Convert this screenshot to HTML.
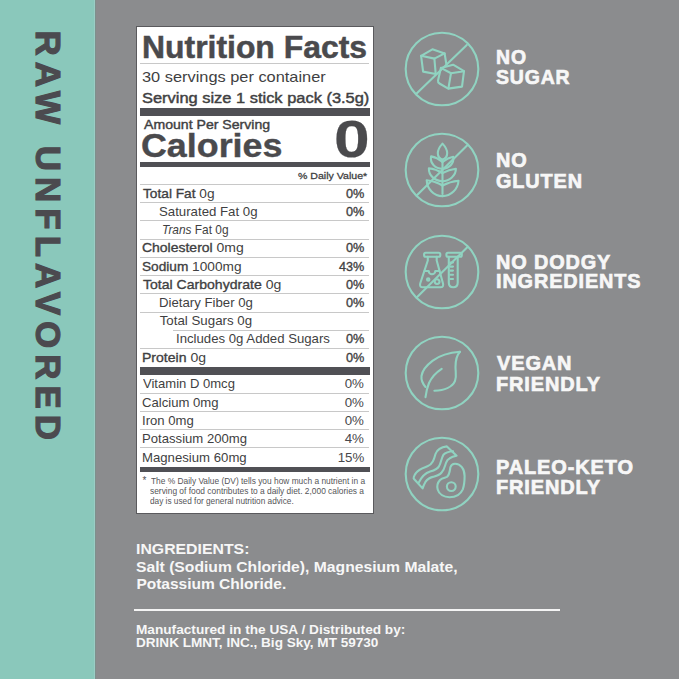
<!DOCTYPE html>
<html><head><meta charset="utf-8"><style>
html,body{margin:0;padding:0}
body{width:679px;height:679px;position:relative;overflow:hidden;background:#8b8c8e;font-family:"Liberation Sans",sans-serif}
.t{position:absolute;line-height:1;white-space:nowrap;transform-origin:0 0}
.r{position:absolute}
b{font-weight:400;-webkit-text-stroke:0.35px currentColor}
.ic{position:absolute}
</style></head><body>
<div style="position:absolute;left:0;top:0;width:94px;height:679px;background:#8ac8bb"></div><div style="position:absolute;left:94px;top:0;width:1px;height:679px;background:#9bcdc5"></div><div style="position:absolute;left:95px;top:0;width:1px;height:679px;background:#7d908c"></div>
<div style="position:absolute;left:0;top:0;width:400px;height:40px;transform-origin:0 0;transform:translate(59.6px,30.5px) rotate(90deg);font-weight:700;font-size:35px;letter-spacing:5.98px;color:#4b4a4f;-webkit-text-stroke:1.1px #4b4a4f;line-height:1;white-space:nowrap"><span style="position:absolute;left:0;top:-5.55px">RAW UNFLAVORED</span></div>
<div style="position:absolute;left:136px;top:26px;width:235.5px;height:486px;background:#ffffff;border:1.5px solid #5a5a5d"></div>
<div class=r style="left:140px;top:63px;width:229px;height:1px;background:#c8c8c8"></div><div class=r style="left:140px;top:108px;width:229.5px;height:8px;background:#505055"></div><div class=r style="left:140px;top:162px;width:229.5px;height:5px;background:#505055"></div><div class=r style="left:140px;top:184px;width:229px;height:1px;background:#c8c8c8"></div><div class=r style="left:140px;top:202px;width:229px;height:1px;background:#c8c8c8"></div><div class=r style="left:140px;top:220px;width:229px;height:1px;background:#c8c8c8"></div><div class=r style="left:140px;top:238.6px;width:229px;height:1.0px;background:#c8c8c8"></div><div class=r style="left:140px;top:257px;width:229px;height:1px;background:#c8c8c8"></div><div class=r style="left:140px;top:275px;width:229px;height:1px;background:#c8c8c8"></div><div class=r style="left:140px;top:293px;width:229px;height:1px;background:#c8c8c8"></div><div class=r style="left:140px;top:312px;width:229px;height:1px;background:#c8c8c8"></div><div class=r style="left:140px;top:348px;width:229px;height:1px;background:#c8c8c8"></div><div class=r style="left:173px;top:330px;width:196px;height:1px;background:#c8c8c8"></div><div class=r style="left:140px;top:367px;width:229.5px;height:8px;background:#505055"></div><div class=r style="left:140px;top:392.6px;width:229px;height:1.0px;background:#c8c8c8"></div><div class=r style="left:140px;top:411px;width:229px;height:1px;background:#c8c8c8"></div><div class=r style="left:140px;top:429.4px;width:229px;height:1.0px;background:#c8c8c8"></div><div class=r style="left:140px;top:447.4px;width:229px;height:1.0px;background:#c8c8c8"></div><div class=r style="left:140px;top:466.5px;width:229.5px;height:5.0px;background:#505055"></div>
<div class=t style="left:142.04px;top:31.65px;font-size:31px;font-weight:700;font-style:normal;color:#4a4a4d;transform:scaleX(1.0287);-webkit-text-stroke:0.5px #4a4a4d;">Nutrition Facts</div><div class=t style="left:142.11px;top:68.60px;font-size:15px;font-weight:400;font-style:normal;color:#3f3f42;transform:scaleX(1.0910);">30 servings per container</div><div class=t style="left:142.13px;top:89.55px;font-size:15.3px;font-weight:400;font-style:normal;color:#3f3f42;transform:scaleX(1.0738);-webkit-text-stroke:0.45px #3f3f42;">Serving size 1 stick pack (3.5g)</div><div class=t style="left:144.10px;top:118.39px;font-size:13px;font-weight:400;font-style:normal;color:#3f3f42;transform:scaleX(1.0843);-webkit-text-stroke:0.4px #3f3f42;">Amount Per Serving</div><div class=t style="left:141.05px;top:128.01px;font-size:34px;font-weight:700;font-style:normal;color:#4a4a4d;transform:scaleX(1.0538);-webkit-text-stroke:0.4px #4a4a4d;">Calories</div><div class=t style="left:334.28px;top:113.72px;font-size:51px;font-weight:700;font-style:normal;color:#4a4a4d;transform:scaleX(1.2583);-webkit-text-stroke:0.2px #4a4a4d;">0</div><div class=t style="left:297.71px;top:170.79px;font-size:9.7px;font-weight:400;font-style:normal;color:#3f3f42;transform:scaleX(1.0919);-webkit-text-stroke:0.3px #3f3f42;">% Daily Value*</div><div class=t style="left:143.00px;top:187.04px;font-size:13.3px;font-weight:400;font-style:normal;color:#3f3f42;transform:scaleX(1.0304);"><b>Total Fat</b> 0g</div><div class=t style="left:345.54px;top:187.04px;font-size:13.3px;font-weight:400;font-style:normal;color:#3f3f42;transform:scaleX(0.9556);-webkit-text-stroke:0.35px #3f3f42;">0%</div><div class=t style="left:158.71px;top:205.24px;font-size:13.3px;font-weight:400;font-style:normal;color:#3f3f42;transform:scaleX(0.9948);">Saturated Fat 0g</div><div class=t style="left:345.54px;top:205.24px;font-size:13.3px;font-weight:400;font-style:normal;color:#3f3f42;transform:scaleX(0.9556);-webkit-text-stroke:0.35px #3f3f42;">0%</div><div class=t style="left:162.41px;top:222.84px;font-size:13.3px;font-weight:400;font-style:normal;color:#3f3f42;transform:scaleX(0.8945);"><i>Trans</i> Fat 0g</div><div class=t style="left:141.95px;top:241.44px;font-size:13.3px;font-weight:400;font-style:normal;color:#3f3f42;transform:scaleX(1.0505);"><b>Cholesterol</b> 0mg</div><div class=t style="left:345.54px;top:241.44px;font-size:13.3px;font-weight:400;font-style:normal;color:#3f3f42;transform:scaleX(0.9556);-webkit-text-stroke:0.35px #3f3f42;">0%</div><div class=t style="left:141.97px;top:259.54px;font-size:13.3px;font-weight:400;font-style:normal;color:#3f3f42;transform:scaleX(1.0274);"><b>Sodium</b> 1000mg</div><div class=t style="left:339.00px;top:259.54px;font-size:13.3px;font-weight:400;font-style:normal;color:#3f3f42;transform:scaleX(0.9500);-webkit-text-stroke:0.35px #3f3f42;">43%</div><div class=t style="left:143.00px;top:278.14px;font-size:13.3px;font-weight:400;font-style:normal;color:#3f3f42;transform:scaleX(1.0569);"><b>Total Carbohydrate</b> 0g</div><div class=t style="left:345.54px;top:278.14px;font-size:13.3px;font-weight:400;font-style:normal;color:#3f3f42;transform:scaleX(0.9556);-webkit-text-stroke:0.35px #3f3f42;">0%</div><div class=t style="left:158.71px;top:296.34px;font-size:13.3px;font-weight:400;font-style:normal;color:#3f3f42;transform:scaleX(0.9925);">Dietary Fiber 0g</div><div class=t style="left:345.54px;top:296.34px;font-size:13.3px;font-weight:400;font-style:normal;color:#3f3f42;transform:scaleX(0.9556);-webkit-text-stroke:0.35px #3f3f42;">0%</div><div class=t style="left:159.70px;top:313.94px;font-size:13.3px;font-weight:400;font-style:normal;color:#3f3f42;">Total Sugars 0g</div><div class=t style="left:175.51px;top:332.34px;font-size:13.3px;font-weight:400;font-style:normal;color:#3f3f42;transform:scaleX(0.9916);">Includes 0g Added Sugars</div><div class=t style="left:345.54px;top:332.34px;font-size:13.3px;font-weight:400;font-style:normal;color:#3f3f42;transform:scaleX(0.9556);-webkit-text-stroke:0.35px #3f3f42;">0%</div><div class=t style="left:141.94px;top:351.04px;font-size:13.3px;font-weight:400;font-style:normal;color:#3f3f42;transform:scaleX(1.0559);"><b>Protein</b> 0g</div><div class=t style="left:345.54px;top:351.04px;font-size:13.3px;font-weight:400;font-style:normal;color:#3f3f42;transform:scaleX(0.9556);-webkit-text-stroke:0.35px #3f3f42;">0%</div><div class=t style="left:143.00px;top:377.24px;font-size:13.3px;font-weight:400;font-style:normal;color:#3f3f42;transform:scaleX(0.9817);">Vitamin D 0mcg</div><div class=t style="left:344.70px;top:377.24px;font-size:13.3px;font-weight:400;font-style:normal;color:#48484b;">0%</div><div class=t style="left:142.01px;top:395.74px;font-size:13.3px;font-weight:400;font-style:normal;color:#3f3f42;transform:scaleX(0.9868);">Calcium 0mg</div><div class=t style="left:344.70px;top:395.74px;font-size:13.3px;font-weight:400;font-style:normal;color:#48484b;">0%</div><div class=t style="left:142.01px;top:413.94px;font-size:13.3px;font-weight:400;font-style:normal;color:#3f3f42;transform:scaleX(0.9863);">Iron 0mg</div><div class=t style="left:344.70px;top:413.94px;font-size:13.3px;font-weight:400;font-style:normal;color:#48484b;">0%</div><div class=t style="left:142.01px;top:432.34px;font-size:13.3px;font-weight:400;font-style:normal;color:#3f3f42;transform:scaleX(0.9876);">Potassium 200mg</div><div class=t style="left:344.70px;top:432.34px;font-size:13.3px;font-weight:400;font-style:normal;color:#48484b;">4%</div><div class=t style="left:142.01px;top:450.54px;font-size:13.3px;font-weight:400;font-style:normal;color:#3f3f42;transform:scaleX(0.9904);">Magnesium 60mg</div><div class=t style="left:337.70px;top:450.54px;font-size:13.3px;font-weight:400;font-style:normal;color:#48484b;">15%</div><div class=t style="left:142.50px;top:476.03px;font-size:10px;font-weight:400;font-style:normal;color:#555558;">*</div><div class=t style="left:150.80px;top:475.70px;font-size:9.8px;font-weight:400;font-style:normal;color:#555558;transform:scaleX(0.8534);">The % Daily Value (DV) tells you how much a nutrient in a</div><div class=t style="left:149.94px;top:486.00px;font-size:9.8px;font-weight:400;font-style:normal;color:#555558;transform:scaleX(0.8562);">serving of food contributes to a daily diet. 2,000 calories a</div><div class=t style="left:149.96px;top:496.30px;font-size:9.8px;font-weight:400;font-style:normal;color:#555558;transform:scaleX(0.8432);">day is used for general nutrition advice.</div><div class=t style="left:495.56px;top:47.06px;font-size:20.6px;font-weight:700;font-style:normal;color:#f7f7f7;transform:scaleX(0.9434);-webkit-text-stroke:0.7px #f7f7f7;letter-spacing:0.9px;">NO</div><div class=t style="left:495.56px;top:67.36px;font-size:20.6px;font-weight:700;font-style:normal;color:#f7f7f7;transform:scaleX(0.9434);-webkit-text-stroke:0.7px #f7f7f7;letter-spacing:0.9px;">SUGAR</div><div class=t style="left:495.54px;top:150.26px;font-size:20.6px;font-weight:700;font-style:normal;color:#f7f7f7;transform:scaleX(0.9644);-webkit-text-stroke:0.7px #f7f7f7;letter-spacing:0.9px;">NO</div><div class=t style="left:495.54px;top:171.46px;font-size:20.6px;font-weight:700;font-style:normal;color:#f7f7f7;transform:scaleX(0.9644);-webkit-text-stroke:0.7px #f7f7f7;letter-spacing:0.9px;">GLUTEN</div><div class=t style="left:495.54px;top:251.86px;font-size:20.6px;font-weight:700;font-style:normal;color:#f7f7f7;transform:scaleX(0.9649);-webkit-text-stroke:0.7px #f7f7f7;letter-spacing:0.9px;">NO DODGY</div><div class=t style="left:495.54px;top:271.46px;font-size:20.6px;font-weight:700;font-style:normal;color:#f7f7f7;transform:scaleX(0.9649);-webkit-text-stroke:0.7px #f7f7f7;letter-spacing:0.9px;">INGREDIENTS</div><div class=t style="left:496.50px;top:353.06px;font-size:20.6px;font-weight:700;font-style:normal;color:#f7f7f7;transform:scaleX(0.9698);-webkit-text-stroke:0.7px #f7f7f7;letter-spacing:0.9px;">VEGAN</div><div class=t style="left:495.53px;top:373.86px;font-size:20.6px;font-weight:700;font-style:normal;color:#f7f7f7;transform:scaleX(0.9698);-webkit-text-stroke:0.7px #f7f7f7;letter-spacing:0.9px;">FRIENDLY</div><div class=t style="left:495.53px;top:456.96px;font-size:20.6px;font-weight:700;font-style:normal;color:#f7f7f7;transform:scaleX(0.9698);-webkit-text-stroke:0.7px #f7f7f7;letter-spacing:0.9px;">PALEO-KETO</div><div class=t style="left:495.53px;top:477.46px;font-size:20.6px;font-weight:700;font-style:normal;color:#f7f7f7;transform:scaleX(0.9698);-webkit-text-stroke:0.7px #f7f7f7;letter-spacing:0.9px;">FRIENDLY</div><div class=t style="left:136.38px;top:541.08px;font-size:15.5px;font-weight:700;font-style:normal;color:#f7f7f7;transform:scaleX(1.0211);">INGREDIENTS:</div><div class=t style="left:136.39px;top:558.98px;font-size:15.5px;font-weight:700;font-style:normal;color:#f7f7f7;transform:scaleX(1.0120);">Salt (Sodium Chloride), Magnesium Malate,</div><div class=t style="left:136.40px;top:576.38px;font-size:15.5px;font-weight:700;font-style:normal;color:#f7f7f7;">Potassium Chloride.</div><div class=t style="left:136.39px;top:623.17px;font-size:13.5px;font-weight:700;font-style:normal;color:#f7f7f7;transform:scaleX(1.0106);">Manufactured in the USA / Distributed by:</div><div class=t style="left:136.40px;top:636.37px;font-size:13.5px;font-weight:700;font-style:normal;color:#f7f7f7;transform:scaleX(1.0046);">DRINK LMNT, INC., Big Sky, MT 59730</div>
<svg class=ic style="left:402px;top:29px" width=80 height=80 viewBox='-40 -40 80 80'><g fill='none' stroke='#90d3c1' stroke-width='2.1' stroke-linecap='round' stroke-linejoin='round'><circle cx='0' cy='0' r='36.3'/><path d='M-25.4 24.5 L24.8 -24.1'/><path d='M-20.9 -13.2 L-9.6 -19.7 L2.6 -15.6 L-7.6 -10.4 Z'/><path d='M-20.9 -13.2 L-18.9 2.6 L-6.3 5 L-7.6 -10.4'/><path d='M2.6 -15.6 L4.4 -4.5'/><path d='M-1.1 -1.1 L11.1 -4.3 L22 2.2 L9 4.2 Z'/><path d='M-1.1 -1.1 L-4 11.5 Q-4.3 13.5 -2.5 14.5 L6.2 19.6 L20 17.6 L22 2.2'/><path d='M9 4.2 L6.4 19.4'/></g></svg><svg class=ic style="left:402px;top:130.4px" width=80 height=80 viewBox='-40 -40 80 80'><g fill='none' stroke='#90d3c1' stroke-width='2.1' stroke-linecap='round' stroke-linejoin='round'><circle cx='0' cy='0' r='36.3'/><path d='M-25.3 25.5 L25.3 -24.8'/><path d='M0.5 -26.4 C-5.5 -20 -6 -13 0.5 -10.3 C7 -13 6.5 -20 0.5 -26.4 Z'/><path d='M0.5 -8 Q-5 -12.5 -10.9 -13.6 C-12.3 -6.5 -6.5 -1.5 0.5 -1.2'/><path d='M0.5 -8 Q6 -12.3 11.2 -13.2 C12.5 -6.5 7 -1.5 0.5 -1.2'/><path d='M0.4 3.2 Q-6 -1 -13.1 -1.7 C-13.5 5.5 -7 11 0.4 11.2'/><path d='M0.4 3.2 Q7 -0.5 13.9 -1.2 C14 5.5 7.5 11 0.4 11.2'/><path d='M0.5 15.5 Q-7 11 -15.3 10.2 C-15 19 -8 26 0.5 26.1'/><path d='M0.5 15.5 Q8 11.5 16.5 10.7 C16 19 9 26 0.5 26.1'/><path d='M0.5 -10.3 L0.5 24'/></g></svg><svg class=ic style="left:402px;top:231.89999999999998px" width=80 height=80 viewBox='-40 -40 80 80'><g fill='none' stroke='#90d3c1' stroke-width='2.1' stroke-linecap='round' stroke-linejoin='round'><circle cx='0' cy='0' r='36.3'/><path d='M-25.3 25.5 L25.3 -24.8'/><rect x='-17.9' y='-19.2' width='16.2' height='4' rx='1.5'/><path d='M-14.2 -15.2 L-14.2 -11.5 L-21.8 11.5 Q-22.8 15.2 -19 15.2 L-1.8 15.2 Q2 15.2 1 11.5 L-5.3 -11.5 L-5.3 -15.2'/><path d='M-17.4 -1 L-13.3 -1 A3.3 3.3 0 0 0 -6.7 -1 L-2.6 -1'/><circle cx='-13.8' cy='7.5' r='1.2'/><circle cx='-4.9' cy='9.6' r='2.4'/><rect x='4.4' y='-19.2' width='15.4' height='4' rx='1.5'/><path d='M6.8 -15.2 L6.8 10.7 Q6.8 15.2 11.25 15.2 Q15.7 15.2 15.7 10.7 L15.7 -15.2'/><path d='M8.4 -9.5 L11 -9.5 M8.4 -5.4 L11 -5.4 M8.4 -1.4 L11 -1.4 M8.4 2.7 L11 2.7 M8.4 7 L11 7'/></g></svg><svg class=ic style="left:402px;top:332.7px" width=80 height=80 viewBox='-40 -40 80 80'><g fill='none' stroke='#90d3c1' stroke-width='2.1' stroke-linecap='round' stroke-linejoin='round'><circle cx='0' cy='0' r='36.3'/><path d='M18 -21.2 C8 -20.5 -3 -17 -9.2 -12.3 C-15 -8 -19.5 -3.5 -20.5 3 C-21 7.5 -19 11 -16.5 14'/><path d='M18 -21.2 C14.5 -17.5 13.5 -12 13.5 -6 C13.5 -1 14.8 3 13 8 C10.5 13.5 3 17.5 -7.6 17.7'/><path d='M-0.3 -4.2 C-6 -0.5 -10.5 4.5 -13 10 C-15 15 -16 20 -16.5 24.1'/></g></svg><svg class=ic style="left:402px;top:434.2px" width=80 height=80 viewBox='-40 -40 80 80'><g fill='none' stroke='#90d3c1' stroke-width='2.1' stroke-linecap='round' stroke-linejoin='round'><circle cx='0' cy='0' r='36.3'/><path d='M4.9 -27.6 C0 -27 -4.5 -25.5 -6.5 -20 C-8 -14.5 -9.5 -9.5 -14.5 -7.7 C-19 -6 -23.5 -4.8 -26 -1 C-28.5 2 -28.5 4.5 -28.2 4.7 L-19.4 14.4 C-18.5 11.5 -17.5 9.5 -16.7 8.2 C-14.5 5 -12 3.5 -9.2 2.9 C-5 1.8 -2 0.5 -0.4 -1.5 C2.5 -4.5 3 -8.5 4 -11.2 C5 -14 6 -15 7.6 -15.6 C10 -17.5 12.5 -18 14.6 -18.3 Z'/><path d='M-23.4 8.9 C-21 4 -16.5 -1 -11.9 -2.4 C-8 -3.5 -4.5 -4.5 -3 -7.7 C-1 -11 -0.5 -16.5 1.4 -19.2 C3.5 -21.5 7.5 -22.5 11.1 -22.7'/><path d='M12.9 -10.3 C18.5 -10.5 22.6 -5 22.6 2 C22.6 8 22 12 20.8 15.3 C18.5 20.5 13 23.2 7.6 23.2 C2 23.2 -3 20.5 -4.3 15.5 C-5.3 12 -4.8 9.1 -2 6 C0 4 3.5 3.5 4.9 2.9 C7.5 1 7.8 -3 8.4 -6.8 C9 -9 10.5 -10.2 12.9 -10.3 Z'/><circle cx='9.3' cy='12.6' r='4.4'/></g></svg>
<div style="position:absolute;left:133.5px;top:609px;width:426.5px;height:1.8px;background:#f4f4f4"></div>
</body></html>
